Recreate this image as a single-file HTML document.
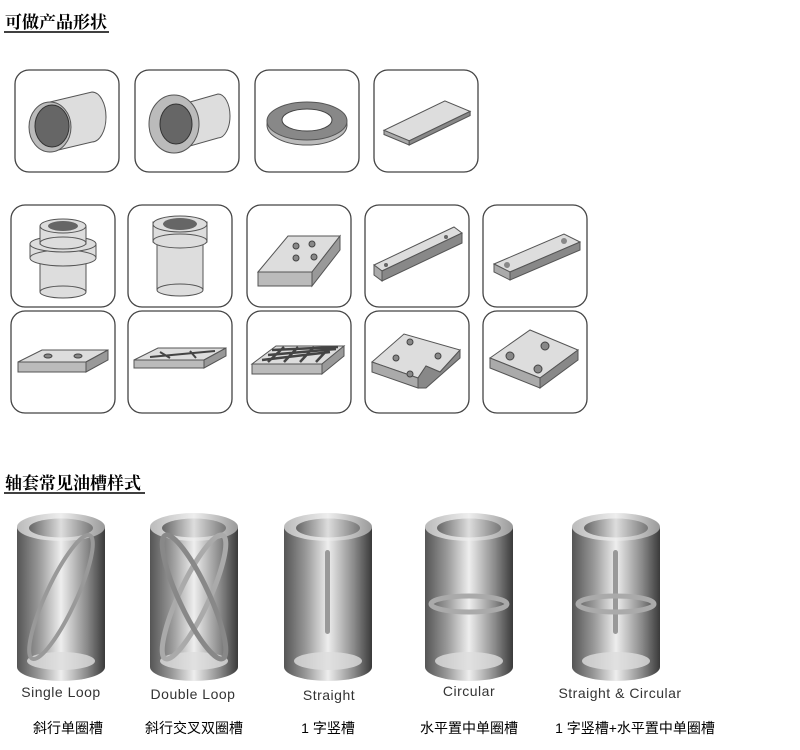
<!DOCTYPE html>
<html><head><meta charset="utf-8"><style>
body{margin:0;background:#fff;width:800px;height:750px;overflow:hidden;font-family:"Liberation Sans","Noto Sans CJK SC",sans-serif}
svg{position:absolute;left:0;top:0}
</style></head><body>
<svg width="800" height="750" viewBox="0 0 800 750">
<defs>
<linearGradient id="cyl" x1="0" x2="1">
<stop offset="0" stop-color="#555"/><stop offset="0.25" stop-color="#999"/><stop offset="0.5" stop-color="#eee"/><stop offset="0.8" stop-color="#888"/><stop offset="1" stop-color="#3a3a3a"/></linearGradient>
<linearGradient id="top" x1="0" x2="1"><stop offset="0" stop-color="#bbb"/><stop offset="0.5" stop-color="#eee"/><stop offset="1" stop-color="#999"/></linearGradient>
<linearGradient id="inner" x1="0" x2="1"><stop offset="0" stop-color="#666"/><stop offset="0.5" stop-color="#ddd"/><stop offset="1" stop-color="#777"/></linearGradient>
<g id="c">
<path d="M-44 -140 L-44 0 A44 14 0 0 0 44 0 L44 -140 Z" fill="url(#cyl)"/>
<ellipse cx="0" cy="-6" rx="34" ry="9" fill="#ddd" opacity="0.8"/>
<ellipse cx="0" cy="-140" rx="44" ry="14" fill="url(#top)"/>
<ellipse cx="0" cy="-139" rx="32" ry="9.5" fill="url(#inner)"/>
</g>
<g id="box"><rect x="0" y="0" width="104" height="102" rx="14" fill="#fff" stroke="#444" stroke-width="1.3"/></g>
</defs>
<text x="5" y="28" font-family="Liberation Serif,'Noto Serif CJK SC',serif" font-size="17" font-weight="bold">可做产品形状</text>
<line x1="4" y1="32" x2="109" y2="32" stroke="#000" stroke-width="1.5"/>
<!-- row1 -->
<use href="#box" x="15" y="70"/><use href="#box" x="135" y="70"/><use href="#box" x="255" y="70"/><use href="#box" x="374" y="70"/>
<path d="M50 102 L92 92 A14 25 0 0 1 92 142 L50 152 Z" fill="#ddd" stroke="#555"/>
<ellipse cx="50" cy="127" rx="21" ry="25" fill="#bbb" stroke="#555"/><ellipse cx="52" cy="126" rx="17" ry="21" fill="#666" stroke="#333"/>
<path d="M190 102 L218 94 A12 22 0 0 1 218 138 L190 146 Z" fill="#ddd" stroke="#555"/>
<ellipse cx="174" cy="124" rx="25" ry="29" fill="#bbb" stroke="#555"/><ellipse cx="176" cy="124" rx="16" ry="20" fill="#666" stroke="#333"/>
<ellipse cx="307" cy="125" rx="40" ry="20" fill="#bbb" stroke="#555"/><ellipse cx="307" cy="121" rx="40" ry="19" fill="#888" stroke="#555"/><ellipse cx="307" cy="120" rx="25" ry="11" fill="#fff" stroke="#444"/>
<g transform="translate(426,124) scale(1.05)"><path d="M-40 6 L18 -22 L42 -12 L-16 16 Z" fill="#ddd" stroke="#555"/><path d="M-40 6 L-16 16 L-16 20 L-40 10Z" fill="#aaa" stroke="#555"/><path d="M-16 16 L42 -12 L42 -8 L-16 20Z" fill="#888" stroke="#555"/></g>
<!-- row2 -->
<use href="#box" x="11" y="205"/><use href="#box" x="128" y="205"/><use href="#box" x="247" y="205"/><use href="#box" x="365" y="205"/><use href="#box" x="483" y="205"/>
<g fill="#ddd" stroke="#555"><rect x="40" y="256" width="46" height="36"/><ellipse cx="63" cy="292" rx="23" ry="6"/><rect x="30" y="244" width="66" height="14"/><ellipse cx="63" cy="258" rx="33" ry="8"/><ellipse cx="63" cy="244" rx="33" ry="8"/><rect x="40" y="226" width="46" height="18"/><ellipse cx="63" cy="243" rx="23" ry="6"/><ellipse cx="63" cy="226" rx="23" ry="7"/></g>
<ellipse cx="63" cy="226" rx="15" ry="5" fill="#666"/>
<g fill="#ddd" stroke="#555"><rect x="157" y="240" width="46" height="50"/><ellipse cx="180" cy="290" rx="23" ry="6"/><rect x="153" y="222" width="54" height="20"/><ellipse cx="180" cy="241" rx="27" ry="7"/><ellipse cx="180" cy="224" rx="27" ry="8"/></g>
<ellipse cx="180" cy="224" rx="17" ry="6" fill="#666"/>
<g stroke="#555"><path d="M258 272 L288 236 L340 236 L312 272 Z" fill="#ddd"/><path d="M258 272 L312 272 L312 286 L258 286Z" fill="#bbb"/><path d="M312 272 L340 236 L340 250 L312 286Z" fill="#999"/></g>
<g fill="#888" stroke="#444"><circle cx="296" cy="246" r="3"/><circle cx="312" cy="244" r="3"/><circle cx="296" cy="258" r="3"/><circle cx="314" cy="257" r="3"/></g>
<g transform="translate(416,255)"><path d="M-42 10 L38 -28 L46 -22 L-34 16 Z" fill="#ddd" stroke="#555"/><path d="M-42 10 L-34 16 L-34 26 L-42 20Z" fill="#aaa" stroke="#555"/><path d="M-34 16 L46 -22 L46 -12 L-34 26Z" fill="#888" stroke="#555"/><circle cx="-30" cy="10" r="2" fill="#666"/><circle cx="30" cy="-18" r="2" fill="#666"/></g>
<g transform="translate(534,258)"><path d="M-40 6 L30 -24 L46 -16 L-24 14 Z" fill="#ddd" stroke="#555"/><path d="M-40 6 L-24 14 L-24 22 L-40 14Z" fill="#aaa" stroke="#555"/><path d="M-24 14 L46 -16 L46 -8 L-24 22Z" fill="#888" stroke="#555"/><circle cx="-27" cy="7" r="3" fill="#888"/><circle cx="30" cy="-17" r="3" fill="#888"/></g>
<!-- row3 -->
<use href="#box" x="11" y="311"/><use href="#box" x="128" y="311"/><use href="#box" x="247" y="311"/><use href="#box" x="365" y="311"/><use href="#box" x="483" y="311"/>
<g stroke="#555"><path d="M18 362 L42 350 L108 350 L86 362Z" fill="#ddd"/><path d="M18 362 L86 362 L86 372 L18 372Z" fill="#bbb"/><path d="M86 362 L108 350 L108 360 L86 372Z" fill="#999"/></g>
<ellipse cx="48" cy="356" rx="4" ry="2" fill="#888" stroke="#444"/><ellipse cx="78" cy="356" rx="4" ry="2" fill="#888" stroke="#444"/>
<g stroke="#555"><path d="M134 360 L158 348 L226 348 L204 360Z" fill="#ddd"/><path d="M134 360 L204 360 L204 368 L134 368Z" fill="#bbb"/><path d="M204 360 L226 348 L226 356 L204 368Z" fill="#999"/></g>
<path d="M150 357 L215 351 M160 352 L170 358 M190 351 L196 358" stroke="#444" stroke-width="2"/>
<g stroke="#555"><path d="M252 364 L276 346 L344 346 L322 364Z" fill="#ddd"/><path d="M252 364 L322 364 L322 374 L252 374Z" fill="#bbb"/><path d="M322 364 L344 346 L344 356 L322 374Z" fill="#999"/></g>
<path d="M262 360 L330 352 M268 355 L336 349 M272 350 L338 347 M268 362 L284 347 M284 362 L298 347 M300 362 L314 347 M316 362 L330 347" stroke="#444" stroke-width="2.5"/>
<g stroke="#555"><path d="M372 362 L404 334 L460 350 L440 372 L426 366 L418 378 Z" fill="#ddd"/><path d="M372 362 L418 378 L418 388 L372 372Z" fill="#aaa"/><path d="M418 378 L426 366 L440 372 L460 350 L460 358 L426 388 L418 388Z" fill="#888"/></g>
<g fill="#888" stroke="#444"><circle cx="396" cy="358" r="3"/><circle cx="410" cy="342" r="3"/><circle cx="438" cy="356" r="3"/><circle cx="410" cy="374" r="3"/></g>
<g stroke="#555"><path d="M490 358 L530 330 L578 350 L540 378 Z" fill="#ddd"/><path d="M490 358 L540 378 L540 388 L490 368Z" fill="#aaa"/><path d="M540 378 L578 350 L578 360 L540 388Z" fill="#888"/></g>
<g fill="#888" stroke="#444"><circle cx="510" cy="356" r="4"/><circle cx="545" cy="346" r="4"/><circle cx="538" cy="369" r="4"/></g>
<text x="5" y="489" font-family="Liberation Serif,'Noto Serif CJK SC',serif" font-size="17" font-weight="bold">轴套常见油槽样式</text>
<line x1="4" y1="493" x2="145" y2="493" stroke="#000" stroke-width="1.5"/>
<!-- cylinders -->
<use href="#c" transform="translate(61,667)"/><use href="#c" transform="translate(194,667)"/><use href="#c" transform="translate(328,667)"/><use href="#c" transform="translate(469,667)"/><use href="#c" transform="translate(616,667)"/>
<ellipse cx="61" cy="597" rx="15" ry="68" transform="rotate(25 61 597)" fill="none" stroke="#999" stroke-width="4"/>
<ellipse cx="194" cy="597" rx="15" ry="68" transform="rotate(25 194 597)" fill="none" stroke="#aaa" stroke-width="5"/>
<ellipse cx="194" cy="597" rx="15" ry="68" transform="rotate(-25 194 597)" fill="none" stroke="#888" stroke-width="5"/>
<rect x="325" y="550" width="5" height="84" rx="2.5" fill="#999"/>
<ellipse cx="469" cy="604" rx="38" ry="8" fill="none" stroke="#aaa" stroke-width="5"/>
<rect x="613" y="550" width="5" height="84" rx="2.5" fill="#999"/>
<ellipse cx="616" cy="604" rx="38" ry="8" fill="none" stroke="#aaa" stroke-width="5"/>
<g font-size="14" fill="#333" letter-spacing="0.5">
<text x="61" y="697" text-anchor="middle">Single Loop</text>
<text x="193" y="699" text-anchor="middle">Double Loop</text>
<text x="329" y="700" text-anchor="middle">Straight</text>
<text x="469" y="696" text-anchor="middle">Circular</text>
<text x="620" y="698" text-anchor="middle">Straight &amp; Circular</text>
</g>
<g font-size="14" fill="#000">
<text x="68" y="733" text-anchor="middle">斜行单圈槽</text>
<text x="194" y="733" text-anchor="middle">斜行交叉双圈槽</text>
<text x="328" y="733" text-anchor="middle">1 字竖槽</text>
<text x="469" y="733" text-anchor="middle">水平置中单圈槽</text>
<text x="635" y="733" text-anchor="middle">1 字竖槽+水平置中单圈槽</text>
</g>
</svg>
</body></html>
